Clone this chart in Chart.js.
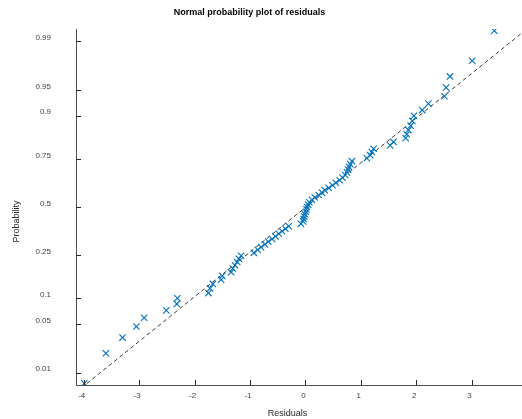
<!DOCTYPE html>
<html><head><meta charset="utf-8">
<script src="https://cdn.jsdelivr.net/npm/chart.js@4.4.1/dist/chart.umd.min.js"></script>
<style>html,body{margin:0;padding:0;background:#fff;}#wrap{width:522px;height:419px;position:relative;}</style>
</head><body><div id="wrap"><canvas id="c" width="522" height="419"></canvas></div>
<script>
// ---- data (sorted residuals) ----
const residuals = [
 -3.99,-3.60,-3.30,-3.05,-2.91,-2.51,-2.32,-2.31,-1.75,-1.72,
 -1.67,-1.52,-1.50,-1.34,-1.31,-1.27,-1.23,-1.20,-1.16,-0.93,
 -0.86,-0.80,-0.73,-0.67,-0.60,-0.54,-0.48,-0.42,-0.36,-0.30,
 -0.08,-0.04,-0.03,-0.02,-0.01,0.01,0.02,0.03,0.05,0.07,
 0.12,0.17,0.24,0.30,0.35,0.42,0.49,0.55,0.62,0.67,
 0.72,0.75,0.77,0.79,0.81,0.84,1.11,1.17,1.20,1.23,
 1.53,1.59,1.81,1.83,1.86,1.90,1.93,1.96,2.11,2.22,
 2.51,2.54,2.61,3.01,3.41
];
const probTicks = [0.01,0.05,0.1,0.25,0.5,0.75,0.9,0.95,0.99];
const probTickLabels = ['0.01','0.05','0.1','0.25','0.5','0.75','0.9','0.95','0.99'];
const xTicks = [-4,-3,-2,-1,0,1,2,3];
const xRange = [-4.14, 3.91];
const zRange = [-2.5, 2.5];
const refMu = 0.01, refSigma = 1.595;   // dashed reference line (fit)
const titleText = 'Normal probability plot of residuals';
const xLabel = 'Residuals';
const yLabel = 'Probability';

// inverse standard normal CDF (probability-scale transform)
function norminv(p){
 const a=[-3.969683028665376e+01,2.209460984245205e+02,-2.759285104469687e+02,1.383577518672690e+02,-3.066479806614716e+01,2.506628277459239e+00];
 const b=[-5.447609879822406e+01,1.615858368580409e+02,-1.556989798598866e+02,6.680131188771972e+01,-1.328068155288572e+01];
 const c=[-7.784894002430293e-03,-3.223964580411365e-01,-2.400758277161838e+00,-2.549671010434288e+00,4.374664141464968e+00,2.938163982698783e+00];
 const d=[7.784695709041462e-03,3.224671290700398e-01,2.445134137142996e+00,3.754408661907416e+00];
 const pl=0.02425, ph=1-pl; let q,r;
 if(p<pl){q=Math.sqrt(-2*Math.log(p));return (((((c[0]*q+c[1])*q+c[2])*q+c[3])*q+c[4])*q+c[5])/((((d[0]*q+d[1])*q+d[2])*q+d[3])*q+1);}
 if(p>ph){q=Math.sqrt(-2*Math.log(1-p));return -(((((c[0]*q+c[1])*q+c[2])*q+c[3])*q+c[4])*q+c[5])/((((d[0]*q+d[1])*q+d[2])*q+d[3])*q+1);}
 q=p-0.5;r=q*q;return (((((a[0]*r+a[1])*r+a[2])*r+a[3])*r+a[4])*r+a[5])*q/(((((b[0]*r+b[1])*r+b[2])*r+b[3])*r+b[4])*r+1);
}

const n = residuals.length;
const points = residuals.map((v,i)=>({x:v, y:norminv((i+0.5)/n)}));
const refLine = xRange.map(x=>({x:x, y:(x-refMu)/refSigma}));
const zTicks = probTicks.map(norminv);

const AX = '#262626';
const extras = {
  id:'extras',
  afterDraw(chart){
    const ctx = chart.ctx, xs = chart.scales.x, ys = chart.scales.y, ca = chart.chartArea;
    ctx.save();
    ctx.strokeStyle = AX; ctx.lineWidth = 1;
    ctx.beginPath();
    xTicks.forEach(v=>{const px=Math.round(xs.getPixelForValue(v))+0.5; ctx.moveTo(px,ca.bottom); ctx.lineTo(px,ca.bottom-5);});
    zTicks.forEach(v=>{const py=Math.round(ys.getPixelForValue(v))+0.5; ctx.moveTo(ca.left,py); ctx.lineTo(ca.left+5,py);});
    ctx.stroke();
    ctx.fillStyle = '#000';
    ctx.textAlign='center'; ctx.textBaseline='middle';
    ctx.font = 'bold 9px "Liberation Sans", Arial, sans-serif';
    ctx.fillText(titleText, 249.5, 13);
    ctx.fillStyle = '#262626';
    ctx.font = '9px "Liberation Sans", Arial, sans-serif';
    ctx.fillText(xLabel, 287.5, 413.5);
    ctx.translate(16.5, 221.5); ctx.rotate(-Math.PI/2);
    ctx.fillText(yLabel, 0, 0);
    ctx.restore();
  }
};

new Chart(document.getElementById('c'), {
  type:'scatter',
  data:{datasets:[
    {label:'ref', type:'line', data:refLine, borderColor:'#222', borderWidth:0.9, borderDash:[4,3], pointRadius:0, fill:false, order:2},
    {label:'residuals', data:points, pointStyle:'crossRot', pointRadius:4.5, pointBorderWidth:1.1,
     borderColor:'rgb(0,114,189)', backgroundColor:'rgb(0,114,189)', order:1}
  ]},
  options:{
    responsive:false, animation:false, devicePixelRatio:1,
    layout:{autoPadding:false, padding:{top:29,right:0,left:0,bottom:0}},
    plugins:{legend:{display:false}, tooltip:{enabled:false}, title:{display:false}},
    scales:{
      x:{type:'linear', min:xRange[0], max:xRange[1],
        afterBuildTicks:s=>{s.ticks = xTicks.map(v=>({value:v}));},
        afterFit:s=>{s.height=34; s.paddingLeft=0; s.paddingRight=0;},
        grid:{display:false, drawTicks:false},
        border:{display:true, color:'#4d4d4d', width:1},
        ticks:{color:'#404040', font:{size:8, family:'"Liberation Sans", Arial, sans-serif'}, padding:6, labelOffset:-2, maxRotation:0,
          callback:v=>String(v)}
      },
      y:{type:'linear', min:zRange[0], max:zRange[1],
        afterBuildTicks:s=>{s.ticks = zTicks.map(v=>({value:v}));},
        afterFit:s=>{s.width=76; s.paddingTop=0; s.paddingBottom=0;},
        grid:{display:false, drawTicks:false},
        border:{display:true, color:'#4d4d4d', width:1},
        ticks:{color:'#404040', font:{size:8, family:'"Liberation Sans", Arial, sans-serif'}, padding:25, labelOffset:-3.5,
          callback:(v,i)=>probTickLabels[i]}
      }
    }
  },
  plugins:[extras]
});
</script></body></html>
